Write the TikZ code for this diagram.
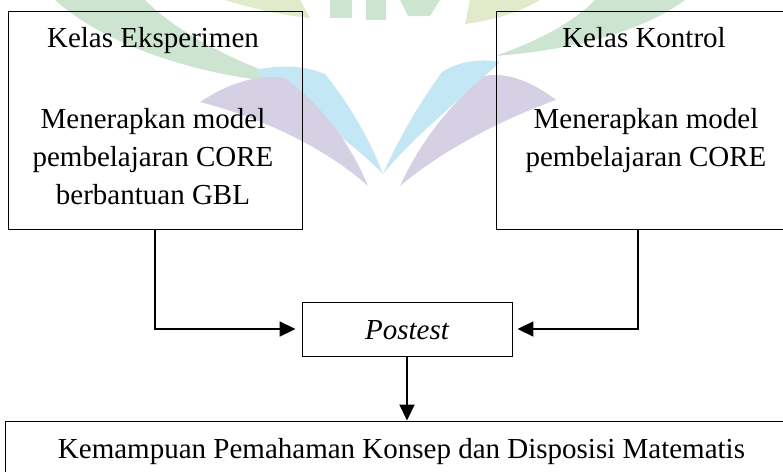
\documentclass[tikz,border=0pt]{standalone}
\usepackage{fontspec}
\setmainfont{Liberation Serif}
\usetikzlibrary{arrows.meta}
\definecolor{wmgreen}{RGB}{204,228,208}
\definecolor{wmyellow}{RGB}{226,234,204}
\definecolor{wmblue}{RGB}{196,231,245}
\definecolor{wmpurple}{RGB}{214,208,228}
\tikzset{
  box/.style={draw=black, line width=0.9pt, inner sep=0pt},
  txt/.style={inner sep=0pt, anchor=base, font=\fontsize{29}{36}\selectfont},
  conn/.style={line width=1.8pt, -{Triangle[length=16pt,width=15pt]}},
}
\begin{document}
\begin{tikzpicture}[x=1pt,y=-1pt]
\useasboundingbox (0,0) rectangle (783,471);
% faint watermark
\fill[wmgreen] (55,0) -- (145,0) .. controls (180,35) and (235,62) .. (300,84)
   .. controls (200,78) and (105,45) .. (55,0) -- cycle;
\fill[wmgreen] (685,0) -- (595,0) .. controls (570,25) and (535,42) .. (495,56)
   .. controls (575,50) and (645,30) .. (685,0) -- cycle;
\fill[wmyellow] (225,0) -- (300,0) -- (310,18) .. controls (280,15) and (250,8) .. (225,0) -- cycle;
\fill[wmyellow] (470,0) -- (540,0) .. controls (520,12) and (495,20) .. (465,24) -- cycle;
\fill[wmgreen] (330,0) rectangle (352,18);
\fill[wmgreen] (366,0) rectangle (386,20);
\fill[wmgreen] (400,0) -- (440,0) -- (430,16) -- (408,16) -- cycle;
\fill[wmblue] (255,70) .. controls (282,64) and (305,66) .. (325,74)
   .. controls (350,105) and (370,140) .. (383,174)
   .. controls (350,140) and (305,112) .. (255,70) -- cycle;
\fill[wmblue] (500,62) .. controls (478,58) and (458,62) .. (442,72)
   .. controls (418,105) and (398,140) .. (383,174)
   .. controls (415,135) and (460,100) .. (500,62) -- cycle;
\fill[wmpurple] (200,102) .. controls (230,82) and (260,74) .. (285,78)
   .. controls (320,104) and (350,142) .. (368,186)
   .. controls (330,152) and (270,120) .. (200,102) -- cycle;
\fill[wmpurple] (556,100) .. controls (530,80) and (505,72) .. (485,76)
   .. controls (450,104) and (420,142) .. (400,186)
   .. controls (440,152) and (500,120) .. (556,100) -- cycle;
% boxes
\node[box, minimum width=294pt, minimum height=218pt] (lbox) at (155,120) {};
\node[box, minimum width=304pt, minimum height=218pt] (rbox) at (648,120) {};
\node[box, minimum width=210pt, minimum height=54pt] (post) at (407,329) {};
\node[box, minimum width=794pt, minimum height=120pt] (res) at (402,481) {};
% texts
\node[txt] (l1) at (153,47) {Kelas Eksperimen};
\node[txt] (l2) at (153,128) {Menerapkan model};
\node[txt] (l3) at (153,166) {pembelajaran CORE};
\node[txt] (l4) at (153,204) {berbantuan GBL};
\node[txt] (r1) at (644,47) {Kelas Kontrol};
\node[txt] (r2) at (646,128) {Menerapkan model};
\node[txt] (r3) at (646,166) {pembelajaran CORE};
\node[txt] (p1) at (407,339) {\itshape Postest};
\node[txt] (b1) at (401.5,458) {Kemampuan Pemahaman Konsep dan Disposisi Matematis};
% connectors
\draw[conn, shorten >=6pt] (lbox.south) |- (post.west);
\draw[conn, shorten >=5pt] ([xshift=-10pt]rbox.south) |- (post.east);
\draw[conn] (post.south) -- (post.south |- res.north);
\end{tikzpicture}
\end{document}
